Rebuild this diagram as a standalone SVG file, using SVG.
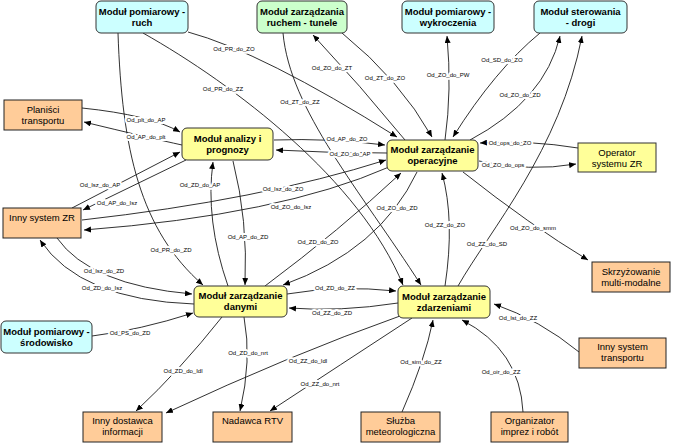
<svg xmlns="http://www.w3.org/2000/svg" width="676" height="445" viewBox="0 0 676 445">
<defs>
<marker id="a" markerWidth="7" markerHeight="6" refX="7" refY="3" orient="auto" markerUnits="userSpaceOnUse"><path d="M0,0 L7,3 L0,6 z" fill="#000"/></marker>
<style>
.e{fill:none;stroke:#1a1a1a;stroke-width:0.9;marker-end:url(#a)}
.l{font-family:"Liberation Sans",Arial,sans-serif;font-size:6px;fill:#000;text-anchor:middle;stroke:#fff;stroke-width:4;paint-order:stroke;stroke-linejoin:round}
.cy{fill:#ccffff;stroke:#333;stroke-width:1}
.gr{fill:#ccffcc;stroke:#333;stroke-width:1}
.ye{fill:#ffff99;stroke:#333;stroke-width:1}
.or{fill:#ffcc99;stroke:#222;stroke-width:1}
.b{font-family:"Liberation Sans",Arial,sans-serif;font-size:9.5px;font-weight:bold;fill:#000;text-anchor:middle}
.n{font-family:"Liberation Sans",Arial,sans-serif;font-size:9.5px;fill:#000;text-anchor:middle}
</style>
</defs>
<rect width="676" height="445" fill="#fff"/>
<g id="connectors">
<path class="e" d="M188,32 Q262,52 397,137"/>
<path class="e" d="M143,33 C235,85 360,180 403,285"/>
<path class="e" d="M283,33 C290,110 360,190 421,285"/>
<path class="e" d="M405,140 Q360,85 313,35"/>
<path class="e" d="M342,33 Q400,80 432,137"/>
<path class="e" d="M445,140 Q452,90 447,36"/>
<path class="e" d="M540,33 Q495,70 453,137"/>
<path class="e" d="M470,140 Q545,100 560,36"/>
<path class="e" d="M458,286 C490,230 560,150 582,36"/>
<path class="e" d="M82,108 Q150,115 180,132"/>
<path class="e" d="M182,145 Q150,138 84,122"/>
<path class="e" d="M274,140 Q330,138 385,145"/>
<path class="e" d="M387,153 Q330,153 276,150"/>
<path class="e" d="M578,148 Q530,140 480,143"/>
<path class="e" d="M479,161 Q530,172 576,164"/>
<path class="e" d="M72,208 L180,152"/>
<path class="e" d="M186,160 L83,210"/>
<path class="e" d="M82,220 Q260,200 386,160"/>
<path class="e" d="M389,167 Q280,215 84,230"/>
<path class="e" d="M228,286 Q205,220 213,162"/>
<path class="e" d="M233,161 Q248,220 245,285"/>
<path class="e" d="M118,33 C122,150 140,230 203,285"/>
<path class="e" d="M265,286 Q340,230 401,173"/>
<path class="e" d="M417,172 Q380,250 283,285"/>
<path class="e" d="M287,294 Q340,285 396,291"/>
<path class="e" d="M398,303 Q340,312 289,308"/>
<path class="e" d="M445,286 Q455,220 442,173"/>
<path class="e" d="M463,172 Q530,225 588,260"/>
<path class="e" d="M57,238 Q90,285 192,294"/>
<path class="e" d="M194,304 Q80,300 40,240"/>
<path class="e" d="M92,336 Q140,330 193,313"/>
<path class="e" d="M222,317 Q180,370 136,411"/>
<path class="e" d="M244,317 Q252,360 240,411"/>
<path class="e" d="M400,316 Q290,355 166,413"/>
<path class="e" d="M412,318 Q340,365 270,411"/>
<path class="e" d="M402,412 Q425,360 433,320"/>
<path class="e" d="M523,412 Q520,350 462,320"/>
<path class="e" d="M579,352 Q540,320 494,304"/>
</g>
<g id="edge-labels">
<text class="l" x="234" y="51">Od_PR_do_ZO</text>
<text class="l" x="223" y="91">Od_PR_do_ZZ</text>
<text class="l" x="300" y="104">Od_ZT_do_ZZ</text>
<text class="l" x="332" y="70">Od_ZO_do_ZT</text>
<text class="l" x="385" y="80">Od_ZT_do_ZO</text>
<text class="l" x="448" y="77">Od_ZO_do_PW</text>
<text class="l" x="502" y="62">Od_SD_do_ZO</text>
<text class="l" x="520" y="97">Od_ZO_do_ZD</text>
<text class="l" x="146" y="122">Od_plt_do_AP</text>
<text class="l" x="146" y="139">Od_AP_do_plt</text>
<text class="l" x="347" y="141">Od_AP_do_ZO</text>
<text class="l" x="350" y="156">Od_ZO_do_AP</text>
<text class="l" x="510" y="145">Od_ops_do_ZO</text>
<text class="l" x="503" y="167">Od_ZO_do_ops</text>
<text class="l" x="100" y="187">Od_Isz_do_AP</text>
<text class="l" x="117" y="205">Od_AP_do_Isz</text>
<text class="l" x="200" y="187">Od_ZD_do_AP</text>
<text class="l" x="283" y="191">Od_Isz_do_ZO</text>
<text class="l" x="291" y="209">Od_ZO_do_Isz</text>
<text class="l" x="397" y="210">Od_ZO_do_ZD</text>
<text class="l" x="445" y="227">Od_ZZ_do_ZO</text>
<text class="l" x="533" y="230">Od_ZO_do_smm</text>
<text class="l" x="248" y="239">Od_AP_do_ZD</text>
<text class="l" x="318" y="244">Od_ZD_do_ZO</text>
<text class="l" x="487" y="246">Od_ZZ_do_SD</text>
<text class="l" x="171" y="252">Od_PR_do_ZD</text>
<text class="l" x="104" y="273">Od_Isz_do_ZD</text>
<text class="l" x="102" y="290">Od_ZD_do_Isz</text>
<text class="l" x="335" y="290">Od_ZD_do_ZZ</text>
<text class="l" x="332" y="315">Od_ZZ_do_ZD</text>
<text class="l" x="518" y="320">Od_Ist_do_ZZ</text>
<text class="l" x="130" y="335">Od_PS_do_ZD</text>
<text class="l" x="248" y="355">Od_ZD_do_nrt</text>
<text class="l" x="308" y="363">Od_ZZ_do_Idl</text>
<text class="l" x="421" y="364">Od_sim_do_ZZ</text>
<text class="l" x="183" y="373">Od_ZD_do_Idl</text>
<text class="l" x="501" y="374">Od_oir_do_ZZ</text>
<text class="l" x="320" y="386">Od_ZZ_do_nrt</text>
</g>
<g id="PR"><rect class="cy" x="96" y="1" width="92" height="32" rx="5"/><text class="b" x="142" y="14.5">Moduł pomiarowy -</text><text class="b" x="142" y="25.5">ruch</text></g>
<g id="ZT"><rect class="gr" x="257" y="1" width="90" height="32" rx="5"/><text class="b" x="302" y="14.5">Moduł zarządzania</text><text class="b" x="302" y="25.5">ruchem - tunele</text></g>
<g id="PW"><rect class="cy" x="402" y="1" width="92" height="32" rx="5"/><text class="b" x="448" y="14.5">Moduł pomiarowy -</text><text class="b" x="448" y="25.5">wykroczenia</text></g>
<g id="SD"><rect class="cy" x="534" y="1" width="93" height="32" rx="5"/><text class="b" x="580.5" y="14.5">Moduł sterowania</text><text class="b" x="580.5" y="25.5">- drogi</text></g>
<g id="PLT"><rect class="or" x="4" y="100" width="78" height="30"/><text class="n" x="43" y="112.5">Planiści</text><text class="n" x="43" y="123.5">transportu</text></g>
<g id="AP"><rect class="ye" x="182" y="128" width="91" height="32" rx="5"/><text class="b" x="227.5" y="141.5">Moduł analizy i</text><text class="b" x="227.5" y="152.5">prognozy</text></g>
<g id="ZO"><rect class="ye" x="387" y="140" width="91" height="31" rx="5"/><text class="b" x="432.5" y="153">Moduł zarządzanie</text><text class="b" x="432.5" y="164">operacyjne</text></g>
<g id="OPS"><rect class="ye" x="578" y="143" width="78" height="29"/><text class="n" x="617" y="156">Operator</text><text class="n" x="617" y="167">systemu ZR</text></g>
<g id="ISZ"><rect class="or" x="3" y="208" width="78" height="30"/><text class="n" x="42" y="221">Inny system ZR</text></g>
<g id="SMM"><rect class="or" x="592" y="262" width="78" height="30"/><text class="n" x="631" y="274.5">Skrzyżowanie</text><text class="n" x="631" y="285.5">multi-modalne</text></g>
<g id="ZD"><rect class="ye" x="194" y="286" width="93" height="31" rx="5"/><text class="b" x="240.5" y="299">Moduł zarządzanie</text><text class="b" x="240.5" y="310">danymi</text></g>
<g id="ZZ"><rect class="ye" x="398" y="286" width="92" height="32" rx="5"/><text class="b" x="444" y="299.5">Moduł zarządzanie</text><text class="b" x="444" y="310.5">zdarzeniami</text></g>
<g id="PS"><rect class="cy" x="1" y="321" width="91" height="32" rx="5"/><text class="b" x="46.5" y="334.5">Moduł pomiarowy -</text><text class="b" x="46.5" y="345.5">środowisko</text></g>
<g id="IDI"><rect class="or" x="83" y="412" width="79" height="30"/><text class="n" x="122.5" y="424">Inny dostawca</text><text class="n" x="122.5" y="435">informacji</text></g>
<g id="NRT"><rect class="or" x="213" y="412" width="79" height="30"/><text class="n" x="252.5" y="424">Nadawca RTV</text></g>
<g id="SLM"><rect class="or" x="361" y="412" width="79" height="30"/><text class="n" x="400.5" y="424">Służba</text><text class="n" x="400.5" y="435">meteorologiczna</text></g>
<g id="OIR"><rect class="or" x="491" y="412" width="77" height="30"/><text class="n" x="529.5" y="424">Organizator</text><text class="n" x="529.5" y="435">imprez i robót</text></g>
<g id="IST"><rect class="or" x="579" y="338" width="87" height="30"/><text class="n" x="622.5" y="350">Inny system</text><text class="n" x="622.5" y="361">transportu</text></g>
</svg>
